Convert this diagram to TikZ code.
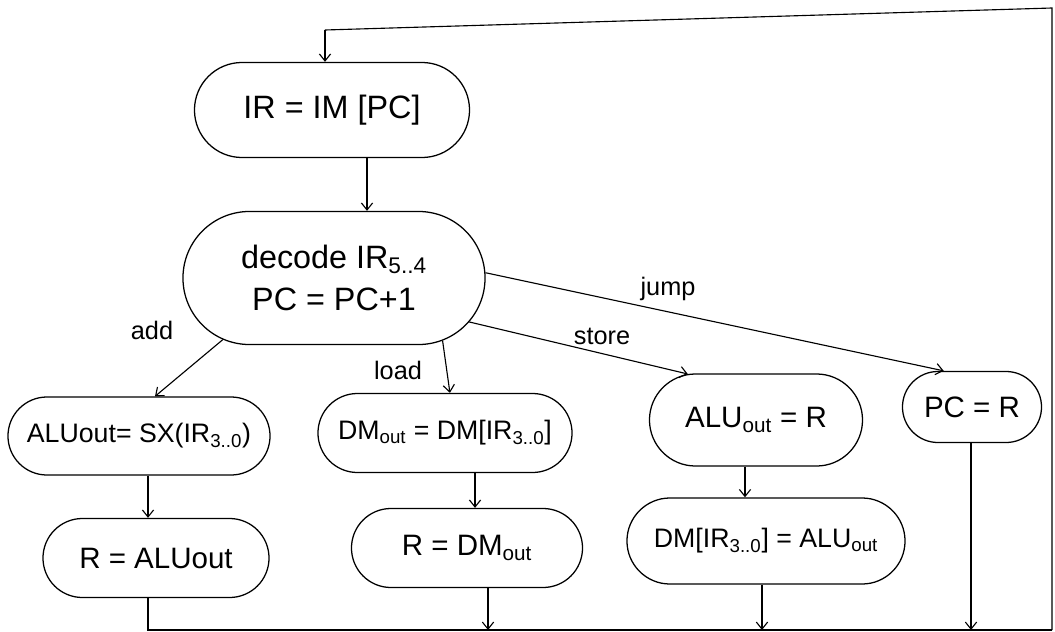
\documentclass[tikz,border=0pt]{standalone}
\usepackage{fontspec}
\setmainfont{Liberation Sans}
\usetikzlibrary{shapes.misc,arrows.meta}
\newcommand{\sbs}[1]{\textsubscript{#1}}
\begin{document}
\begin{tikzpicture}[x=0.025cm,y=-0.025cm,
  every node/.style={font=\fontsize{21}{25}\selectfont},
  big/.style={font=\fontsize{23}{28}\selectfont},
  small/.style={font=\fontsize{19}{23}\selectfont},
  blob/.style={draw,line width=0.9pt,rounded rectangle,inner sep=0pt},
  arr/.style={draw,line width=0.8pt,-{Straight Barb[length=5pt,width=8pt]}},
  plain/.style={draw,line width=0.8pt},
  lbl/.style={font=\fontsize{18}{21}\selectfont}]
\useasboundingbox (0,0) rectangle (1055,632);
% nodes
\node[blob,big,minimum width=6.875cm,minimum height=2.375cm] (ir) at (332,110) {IR = IM [PC]};
\node[blob,big,minimum width=7.55cm,minimum height=3.325cm,align=center] (dec) at (334,278)
  {decode IR\sbs{5..4}\\[2pt]PC = PC+1};
\node[blob,small,minimum width=6.55cm,minimum height=1.95cm] (alu) at (139,436) {ALUout= SX(IR\sbs{3..0})};
\node[blob,minimum width=5.65cm,minimum height=1.975cm] (ra) at (156,558) {R = ALUout};
\node[blob,small,minimum width=6.35cm,minimum height=1.975cm] (dmo) at (445,433) {DM\sbs{out} = DM[IR\sbs{3..0}]};
\node[blob,minimum width=5.775cm,minimum height=1.975cm] (rd) at (467,548) {R = DM\sbs{out}};
\node[blob,minimum width=5.325cm,minimum height=2.3cm] (alur) at (756,420) {ALU\sbs{out} = R};
\node[blob,small,minimum width=6.95cm,minimum height=2.15cm] (dms) at (766,541) {DM[IR\sbs{3..0}] = ALU\sbs{out}};
\node[blob,minimum width=3.475cm,minimum height=1.775cm] (pc) at (972,407) {PC = R};
% edge labels
\node[lbl] (ladd) at (152,330) {add};
\node[lbl] (lload) at (398,370) {load};
\node[lbl] (lstore) at (602,336) {store};
\node[lbl] (ljump) at (668,289) {jump};
% loop coordinates
\coordinate (bl) at (148,630);
\coordinate (br) at (1052,630);
\coordinate (tr) at (1052,8);
\coordinate (tl) at (325,30);
% fetch/decode
\draw[arr] (tl) -- (tl |- ir.north);
\draw[plain] (br) -- (tr) -- (tl);
\draw[arr] ([xshift=0.875cm]ir.south) -- ([xshift=0.875cm]ir.south |- dec.north);
% branches
\draw[arr] (dec.209) -- (alu.68);
\draw[arr] (dec.330) -- (dmo.83);
\draw[arr] (dec.342) -- (alur.146);
\draw[arr] (dec.2) -- (pc.128);
% second steps
\draw[arr] ([xshift=0.225cm]alu.south) -- ([xshift=0.225cm]alu.south |- ra.north);
\draw[arr] ([xshift=0.75cm]dmo.south) -- ([xshift=0.75cm]dmo.south |- rd.north);
\draw[arr] ([xshift=-0.275cm]alur.south) -- ([xshift=-0.275cm]alur.south |- dms.north);
% to loop
\draw[plain] (ra.south -| bl) -- (bl) -- (br);
\draw[arr] ([xshift=0.525cm]rd.south) -- ([xshift=0.525cm]rd.south |- bl);
\draw[arr] ([xshift=-0.1cm]dms.south) -- ([xshift=-0.1cm]dms.south |- bl);
\draw[arr] ([xshift=-0.025cm]pc.south) -- ([xshift=-0.025cm]pc.south |- bl);
\end{tikzpicture}
\end{document}
